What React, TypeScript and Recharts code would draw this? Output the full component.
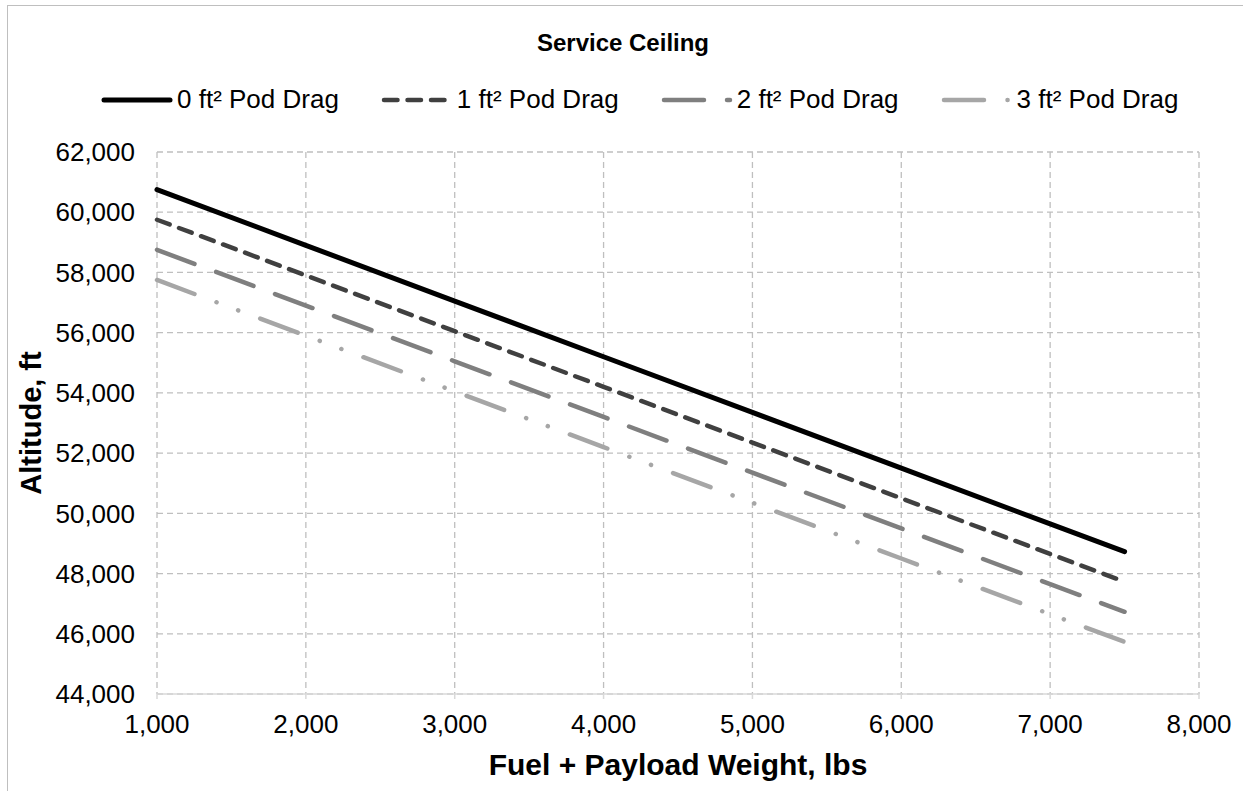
import React from 'react';
import { LineChart, Line, XAxis, YAxis, CartesianGrid } from 'recharts';

// Fuel + payload weight, lbs
const weights = [1000, 2000, 3000, 4000, 5000, 6000, 7000, 7500];

// Service ceiling altitude, ft, one array per pod drag area
const drag0 = [60750, 58900, 57050, 55200, 53350, 51500, 49650, 48730];
const drag1 = [59750, 57900, 56050, 54200, 52350, 50500, 48650, 47730];
const drag2 = [58750, 56900, 55050, 53200, 51350, 49500, 47650, 46730];
const drag3 = [57750, 55900, 54050, 52200, 50350, 48500, 46650, 45730];

const xTicks = [1000, 2000, 3000, 4000, 5000, 6000, 7000, 8000];
const yTicks = [44000, 46000, 48000, 50000, 52000, 54000, 56000, 58000, 60000, 62000];

const data = weights.map((w, i) => ({
  weight: w,
  d0: drag0[i],
  d1: drag1[i],
  d2: drag2[i],
  d3: drag3[i],
}));

const FONT = '"Liberation Sans", Arial, sans-serif';

const series = [
  { key: 'd0', name: '0 ft² Pod Drag', color: '#000000', width: 5, dash: undefined },
  { key: 'd1', name: '1 ft² Pod Drag', color: '#404040', width: 4.5, dash: '13.5 10' },
  { key: 'd2', name: '2 ft² Pod Drag', color: '#7f7f7f', width: 4.5, dash: '40 23' },
  { key: 'd3', name: '3 ft² Pod Drag', color: '#a6a6a6', width: 4.5, dash: '40 23.5 0.1 23 0.1 23.5' },
];

const fmt = (v: number) => v.toLocaleString('en-US');

export default function App() {
  return (
    <div
      style={{
        position: 'absolute',
        left: 0,
        top: 0,
        width: 1243,
        height: 791,
        overflow: 'hidden',
        background: '#fff',
        fontFamily: FONT,
      }}
    >
      {/* chart frame, only top and left edges are inside the picture */}
      <div
        style={{
          position: 'absolute',
          left: 7,
          top: 5,
          width: 1400,
          height: 900,
          borderTop: '1.3px solid #bfbfbf',
          borderLeft: '1.3px solid #bfbfbf',
        }}
      />
      <div
        style={{
          position: 'absolute',
          top: 29,
          left: 0,
          width: 1246,
          textAlign: 'center',
          fontWeight: 'bold',
          fontSize: 24,
          color: '#000',
        }}
      >
        Service Ceiling
      </div>
      <div
        style={{
          position: 'absolute',
          top: 84,
          left: 101,
          display: 'flex',
          alignItems: 'center',
          gap: 42,
          fontSize: 26,
          color: '#000',
        }}
      >
        {series.map((s) => (
          <div key={s.key} style={{ display: 'flex', alignItems: 'center' }}>
            <svg width={72} height={30}>
              <line
                x1={3}
                y1={15}
                x2={69}
                y2={15}
                stroke={s.color}
                strokeWidth={s.width}
                strokeDasharray={s.dash}
                strokeLinecap="round"
              />
            </svg>
            <span style={{ marginLeft: 4, whiteSpace: 'nowrap' }}>{s.name}</span>
          </div>
        ))}
      </div>
      <div style={{ position: 'absolute', left: 0, top: 0 }}>
        <LineChart
          width={1243}
          height={791}
          data={data}
          margin={{ top: 152, right: 44, left: 0, bottom: 0 }}
        >
          <CartesianGrid stroke="#bfbfbf" strokeWidth={1.3} strokeDasharray="6 4" />
          <XAxis
            dataKey="weight"
            type="number"
            domain={[1000, 8000]}
            ticks={xTicks}
            tickFormatter={fmt}
            height={97}
            axisLine={{ stroke: '#d9d9d9', strokeWidth: 1.5 }}
            tickLine={{ stroke: '#d9d9d9', strokeWidth: 1.5 }}
            tickSize={5}
            tickMargin={16}
            tick={{ fill: '#000', fontSize: 26, fontFamily: FONT }}
            label={{
              value: 'Fuel + Payload Weight, lbs',
              position: 'insideBottom',
              offset: 16,
              fill: '#000',
              fontSize: 30,
              fontWeight: 'bold',
              fontFamily: FONT,
            }}
          />
          <YAxis
            type="number"
            domain={[44000, 62000]}
            ticks={yTicks}
            tickFormatter={fmt}
            width={157}
            axisLine={false}
            tickLine={false}
            tickSize={0}
            tickMargin={22}
            tick={{ fill: '#000', fontSize: 26, fontFamily: FONT }}
            label={{
              value: 'Altitude, ft',
              angle: -90,
              position: 'insideLeft',
              offset: 31,
              fill: '#000',
              fontSize: 29,
              fontWeight: 'bold',
              fontFamily: FONT,
              style: { textAnchor: 'middle' },
            }}
          />
          {series.map((s) => (
            <Line
              key={s.key}
              type="linear"
              dataKey={s.key}
              name={s.name}
              stroke={s.color}
              strokeWidth={s.width}
              strokeDasharray={s.dash}
              strokeLinecap="round"
              dot={false}
              activeDot={false}
              isAnimationActive={false}
            />
          ))}
        </LineChart>
      </div>
    </div>
  );
}
